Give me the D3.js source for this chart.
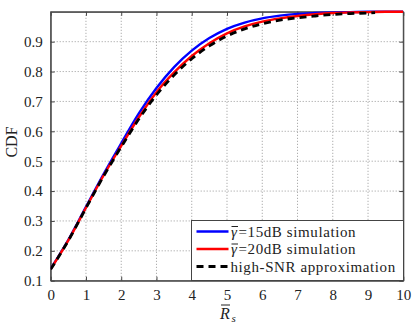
<!DOCTYPE html>
<html>
<head>
<meta charset="utf-8">
<script src="https://cdn.jsdelivr.net/npm/d3@7"></script>
<style>
  body { margin: 0; background: #fff; }
</style>
</head>
<body>
<svg id="chart" width="415" height="325" font-family="Liberation Serif"></svg>
<script>
// data
var rsValues = [0, 0.5, 1, 1.5, 2, 2.5, 3, 3.5, 4, 4.5, 5, 5.5, 6, 6.5, 7, 7.5, 8, 8.5, 9, 9.5, 10];
var sim15dB = [0.140, 0.237, 0.347, 0.457, 0.560, 0.660, 0.745, 0.815, 0.870, 0.912, 0.943, 0.964, 0.978, 0.987, 0.993, 0.996, 0.998, 0.999, 1.0, 1.0, 1.0];
var sim20dB = [0.139, 0.235, 0.344, 0.452, 0.551, 0.647, 0.731, 0.797, 0.852, 0.895, 0.928, 0.951, 0.967, 0.978, 0.986, 0.992, 0.996, 0.998, 0.999, 1.0, 1.0];
var approxRs = [0, 0.5, 1, 1.5, 2, 2.5, 3, 3.5, 4, 4.5, 5, 5.5, 6, 6.5, 7, 7.5, 8, 8.5, 9, 9.2];
var highSnr = [0.138, 0.234, 0.343, 0.450, 0.548, 0.641, 0.722, 0.788, 0.843, 0.886, 0.919, 0.943, 0.960, 0.972, 0.980, 0.986, 0.991, 0.994, 0.996, 0.997];
var xTicks = [0, 1, 2, 3, 4, 5, 6, 7, 8, 9, 10];
var yTicks = [0.1, 0.2, 0.3, 0.4, 0.5, 0.6, 0.7, 0.8, 0.9];
var legendNames = ["15dB simulation", "20dB simulation", "high-SNR approximation"];

var serif = "Liberation Serif";

function drawChart() {
    var svg = d3.select("#chart");
    var m = { left: 50.7, right: 403.3, top: 11.8, bottom: 280.7 };

    var x = d3.scaleLinear().domain([0, 10]).range([m.left, m.right]);
    var y = d3.scaleLinear().domain([0.1, 1.0]).range([m.bottom, m.top]);

    // grid
    svg.append("g").selectAll("line").data(xTicks.slice(1, -1)).join("line")
        .attr("x1", d => x(d)).attr("x2", d => x(d))
        .attr("y1", m.top).attr("y2", m.bottom)
        .attr("stroke", "#999").attr("stroke-width", 1).attr("stroke-dasharray", "1,2");
    svg.append("g").selectAll("line").data(yTicks.slice(1)).join("line")
        .attr("x1", m.left).attr("x2", m.right)
        .attr("y1", d => y(d)).attr("y2", d => y(d))
        .attr("stroke", "#999").attr("stroke-width", 1).attr("stroke-dasharray", "1,2");

    // axes, ticks inward, box on
    var tickLen = -4;
    svg.append("g").attr("transform", "translate(0," + m.bottom + ")")
        .call(d3.axisBottom(x).tickValues(xTicks).tickSizeInner(tickLen).tickSizeOuter(0).tickPadding(9));
    svg.append("g").attr("transform", "translate(" + m.left + ",0)")
        .call(d3.axisLeft(y).tickValues(yTicks).tickSizeInner(tickLen).tickSizeOuter(0).tickPadding(8)
            .tickFormat(d3.format(".1f")));
    svg.append("g").attr("transform", "translate(0," + m.top + ")")
        .call(d3.axisTop(x).tickValues(xTicks).tickSizeInner(tickLen).tickSizeOuter(0).tickFormat(""));
    svg.append("g").attr("transform", "translate(" + m.right + ",0)")
        .call(d3.axisRight(y).tickValues(yTicks).tickSizeInner(tickLen).tickSizeOuter(0).tickFormat(""));
    svg.selectAll("g").attr("font-family", serif);
    svg.selectAll(".domain, .tick line").attr("stroke", "#444");
    svg.selectAll(".tick text").attr("fill", "#222").attr("font-size", "15px")
        .attr("font-family", serif);
    svg.append("rect").attr("x", m.left).attr("y", m.top)
        .attr("width", m.right - m.left).attr("height", m.bottom - m.top)
        .attr("fill", "none").attr("stroke", "#444");

    // curves
    svg.append("clipPath").attr("id", "plotClip").append("rect")
        .attr("x", m.left).attr("y", m.top - 2)
        .attr("width", m.right - m.left).attr("height", m.bottom - m.top + 2);
    var plot = svg.append("g").attr("clip-path", "url(#plotClip)");
    var line = d3.line().x(d => x(d[0])).y(d => y(d[1])).curve(d3.curveMonotoneX);
    var series = [
        { xs: rsValues, ys: sim15dB, color: "#0000ff", width: 2.4, dash: null },
        { xs: rsValues, ys: sim20dB, color: "#ff0000", width: 2.4, dash: null },
        { xs: approxRs, ys: highSnr, color: "#000", width: 2.8, dash: "7,5" }
    ];
    series.forEach(s => {
        plot.append("path")
            .datum(s.xs.map((v, i) => [v, s.ys[i]]))
            .attr("d", line)
            .attr("fill", "none")
            .attr("stroke", s.color)
            .attr("stroke-width", s.width)
            .attr("stroke-dasharray", s.dash);
    });

    // axis labels
    svg.append("text")
        .attr("transform", "translate(17,142) rotate(-90)")
        .attr("text-anchor", "middle").attr("font-family", serif)
        .attr("font-size", "16px").attr("fill", "#222")
        .text("CDF");
    var rl = svg.append("text").attr("x", 220).attr("y", 319).attr("fill", "#222")
        .attr("font-family", serif)
        .attr("font-size", "16px").attr("font-style", "italic").text("R");
    var rb = rl.node().getBBox();
    svg.append("line")
        .attr("x1", rb.x + 2).attr("x2", rb.x + rb.width)
        .attr("y1", 305).attr("y2", 305)
        .attr("stroke", "#222").attr("stroke-width", 1);
    svg.append("text").attr("x", 231.5).attr("y", 322).attr("fill", "#222")
        .attr("font-family", serif)
        .attr("font-size", "11px").attr("font-style", "italic").text("s");

    // legend
    var lg = svg.append("g");
    lg.append("rect").attr("x", 191.5).attr("y", 220.5).attr("width", 212).attr("height", 60)
        .attr("fill", "#fff").attr("stroke", "#444");
    legendNames.forEach((name, i) => {
        var ly = 231.5 + i * 17.5;
        lg.append("line").attr("x1", 196.5).attr("x2", 228.5).attr("y1", ly).attr("y2", ly)
            .attr("stroke", series[i].color).attr("stroke-width", series[i].width)
            .attr("stroke-dasharray", series[i].dash);
        if (i < 2) {
            var g = lg.append("text").attr("x", 231).attr("y", ly + 5).attr("fill", "#222")
                .attr("font-family", serif)
                .attr("font-size", "15px").attr("font-style", "italic").text("γ");
            var gb = g.node().getBBox();
            lg.append("line")
                .attr("x1", gb.x + 0.5).attr("x2", gb.x + gb.width)
                .attr("y1", ly - 5).attr("y2", ly - 5)
                .attr("stroke", "#222").attr("stroke-width", 1);
            lg.append("text").attr("x", gb.x + gb.width + 0.5).attr("y", ly + 5).attr("fill", "#222")
                .attr("font-family", serif).attr("letter-spacing", "0.6px")
                .attr("font-size", "15px").text("=" + name);
        } else {
            lg.append("text").attr("x", 230.5).attr("y", ly + 5).attr("fill", "#222")
                .attr("font-family", serif).attr("letter-spacing", "0.6px")
                .attr("font-size", "15px").text(name);
        }
    });
}

drawChart();
</script>
</body>
</html>
